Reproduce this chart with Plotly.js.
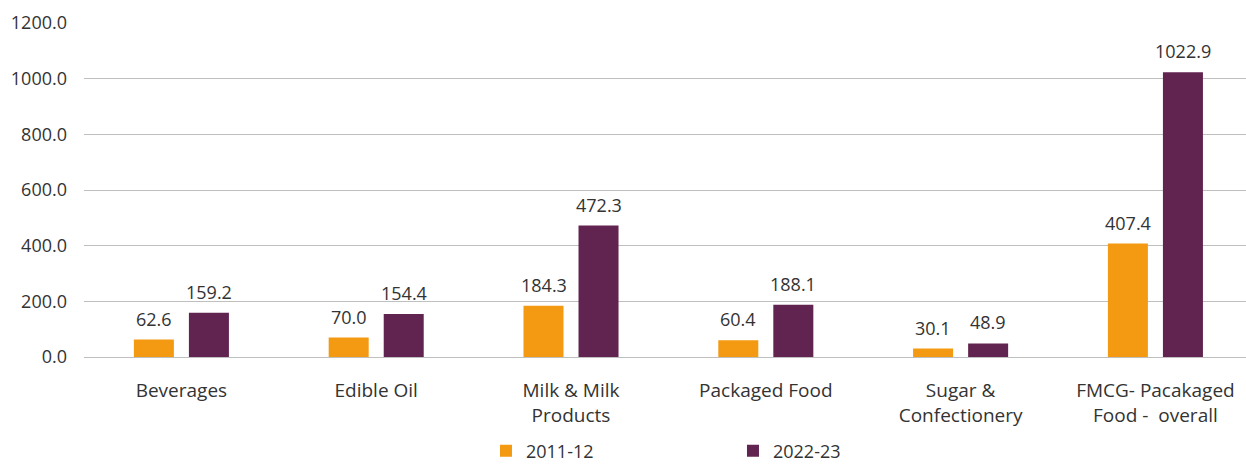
<!DOCTYPE html>
<html>
<head>
<meta charset="utf-8">
<script src="https://cdn.plot.ly/plotly-3.0.1.min.js"></script>
<style>html,body{margin:0;padding:0;background:#fff;}#chart{width:1246px;height:464px;}</style>
</head>
<body>
<div id="chart"></div>
<script>
const categories = ["Beverages", "Edible Oil", "Milk & Milk<br>Products", "Packaged Food", "Sugar &<br>Confectionery", "FMCG- Pacakaged<br>Food -  overall"];
const series1Name = "2011-12";
const series2Name = "2022-23";
const series1 = [62.6, 70.0, 184.3, 60.4, 30.1, 407.4];
const series2 = [159.2, 154.4, 472.3, 188.1, 48.9, 1022.9];
const yTicks = [0, 200, 400, 600, 800, 1000, 1200];

const fam = "Open Sans, Noto Sans, sans-serif";
const font = {family: fam, size: 18, color: "#333333"};
const catFont = {family: fam, size: 19, color: "#333333"};

const traces = [
  {type: "bar", name: series1Name, x: categories, y: series1, marker: {color: "#F39A12"},
   hoverinfo: "skip"},
  {type: "bar", name: series2Name, x: categories, y: series2, marker: {color: "#612350"},
   hoverinfo: "skip"}
];

function labels(vals, shift) {
  return vals.map((v, i) => ({
    x: categories[i], y: v, xref: "x", yref: "y", text: v.toFixed(1),
    showarrow: false, yanchor: "bottom", xanchor: "center",
    xshift: shift, yshift: 7, font: font
  }));
}

const layout = {
  width: 1246, height: 464,
  margin: {l: 84, r: 0, t: 23, b: 107, autoexpand: false},
  paper_bgcolor: "#ffffff", plot_bgcolor: "#ffffff",
  font: font,
  barmode: "group",
  bargap: 0.435,
  bargroupgap: 0.273,
  showlegend: true,
  legend: {orientation: "h", x: 0.5585, xanchor: "center", y: -0.226, yanchor: "top",
           entrywidth: 202, entrywidthmode: "pixels", font: font, traceorder: "normal"},
  xaxis: {type: "category", range: [-0.5, 5.465], tickfont: catFont, showgrid: false,
          zeroline: false, showline: false, ticks: "", ticklen: 0, automargin: false,
          ticklabelstandoff: 20},
  yaxis: {range: [0, 1200], tickvals: yTicks, tickformat: ".1f", tickfont: font,
          showgrid: true, gridcolor: "#BFBFBF", gridwidth: 1, zeroline: true,
          zerolinecolor: "#BFBFBF", zerolinewidth: 1, showline: false, ticks: "",
          ticklabelstandoff: 16, automargin: false},
  annotations: labels(series1, -27.5).concat(labels(series2, 27.5))
};

Plotly.newPlot("chart", traces, layout, {staticPlot: true, displayModeBar: false});
</script>
</body>
</html>
